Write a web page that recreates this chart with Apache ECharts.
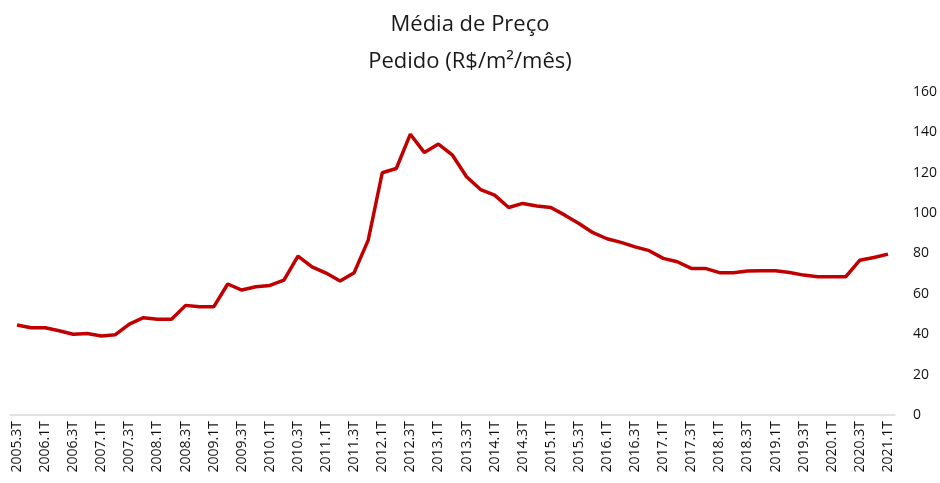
<!DOCTYPE html>
<html>
<head>
<meta charset="utf-8">
<script src="https://cdn.jsdelivr.net/npm/echarts@6/dist/echarts.min.js"></script>
<style>
  html, body { margin: 0; padding: 0; background: #fff; }
  #chart { width: 940px; height: 483px; }
</style>
</head>
<body>
<div id="chart"></div>
<script>
// trimestres de 2005.3T a 2021.1T
const quarters = [];
for (let y = 2005; y <= 2021; y++) {
  for (let q = 1; q <= 4; q++) {
    if ((y === 2005 && q < 3) || (y === 2021 && q > 1)) continue;
    quarters.push(y + '.' + q + 'T');
  }
}

// média de preço pedido (R$/m²/mês)
const precoMedio = [
  44.6, 43.2, 43.2, 41.7, 40.0, 40.4, 39.1, 39.8, 45.0, 48.2,
  47.4, 47.4, 54.3, 53.6, 53.6, 64.9, 61.9, 63.5, 64.2, 66.8,
  78.7, 73.4, 70.3, 66.4, 70.5, 86.6, 120.0, 122.1, 139.1, 130.0,
  134.2, 128.7, 118.0, 111.7, 108.9, 102.8, 104.8, 103.5, 102.8, 99.0,
  94.9, 90.3, 87.3, 85.5, 83.3, 81.4, 77.6, 75.9, 72.6, 72.6,
  70.5, 70.5, 71.3, 71.5, 71.5, 70.6, 69.3, 68.5, 68.5, 68.5,
  76.7, 78.0, 79.7
];

const yTicks = [0, 20, 40, 60, 80, 100, 120, 140, 160];

const chart = echarts.init(document.getElementById('chart'));

chart.setOption({
  animation: false,
  title: {
    text: 'Média de Preço\nPedido (R$/m²/mês)',
    left: 'center',
    top: 1,
    textStyle: {
      fontFamily: 'Open Sans',
      fontSize: 22,
      fontWeight: 'normal',
      color: '#1a1a1a',
      lineHeight: 37
    }
  },
  grid: { left: 10, right: 45, top: 92, bottom: 68 },
  xAxis: {
    type: 'category',
    data: quarters,
    boundaryGap: true,
    axisLine: { lineStyle: { color: '#d9d9d9', width: 1.5 } },
    axisTick: { show: false },
    axisLabel: {
      rotate: 90,
      interval: 1,
      margin: 6,
      fontFamily: 'Open Sans',
      fontSize: 14,
      color: '#111'
    }
  },
  yAxis: {
    type: 'value',
    position: 'right',
    min: yTicks[0],
    max: yTicks[yTicks.length - 1],
    interval: 20,
    splitLine: { show: false },
    axisLine: { show: false },
    axisTick: { show: false },
    axisLabel: {
      margin: 18,
      fontFamily: 'Open Sans',
      fontSize: 14,
      color: '#111'
    }
  },
  series: [{
    name: 'Média de Preço Pedido',
    type: 'line',
    data: precoMedio,
    showSymbol: false,
    lineStyle: { color: '#c00000', width: 3.5 }
  }]
});
</script>
</body>
</html>
